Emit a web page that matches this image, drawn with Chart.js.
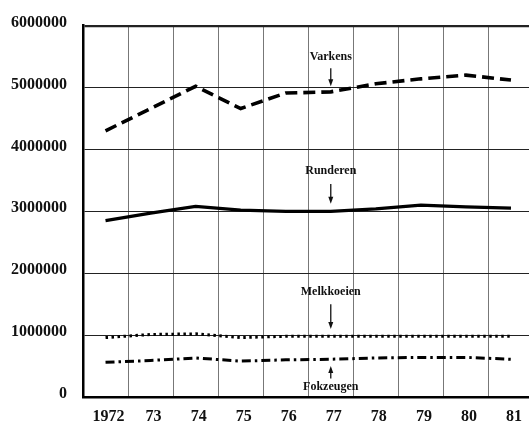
<!DOCTYPE html>
<html>
<head>
<meta charset="utf-8">
<script src="https://cdn.jsdelivr.net/npm/chart.js@4/dist/chart.umd.min.js"></script>
<style>
  html, body { margin: 0; padding: 0; background: #fff; overflow: hidden; }
  #wrap { width: 529px; height: 425px; overflow: hidden; }
</style>
</head>
<body>
<div id="wrap"><canvas id="chart" width="535" height="425"></canvas></div>
<script>
// =====================
// Data
// =====================
const years = ["1972", "73", "74", "75", "76", "77", "78", "79", "80", "81"];

const varkens     = [4300000, 4660000, 5020000, 4660000, 4910000, 4930000, 5060000, 5140000, 5200000, 5120000];
const runderen    = [2850000, 2970000, 3080000, 3020000, 3000000, 3000000, 3040000, 3100000, 3070000, 3050000];
const melkkoeien  = [960000, 1010000, 1020000, 960000, 980000, 980000, 980000, 980000, 980000, 980000];
const fokzeugen   = [560000, 590000, 630000, 580000, 600000, 610000, 630000, 640000, 640000, 610000];

const yTicks = [0, 1000000, 2000000, 3000000, 4000000, 5000000, 6000000];

// labels with arrows: text, category, text value, arrow start, arrow end
const noteText  = ["Varkens", "Runderen", "Melkkoeien", "Fokzeugen"];
const noteYear  = ["77", "77", "77", "77"];
const noteAt    = [5500000, 3650000, 1700000, 160000];
const arrowFrom = [5310000, 3440000, 1500000, 300000];
const arrowTo   = [5020000, 3120000, 1100000, 500000];

const serif = "'Liberation Serif', 'DejaVu Serif', serif";

// =====================
// Notes plugin
// =====================
const notesPlugin = {
  id: 'notes',
  afterDatasetsDraw(chart) {
    const { ctx, scales: { x, y } } = chart;
    ctx.save();
    ctx.fillStyle = '#111';
    ctx.strokeStyle = '#111';
    ctx.font = "bold 12px " + serif;
    ctx.textAlign = 'center';
    ctx.textBaseline = 'middle';
    noteText.forEach((txt, i) => {
      const px = x.getPixelForValue(years.indexOf(noteYear[i]));
      ctx.fillText(txt, px, y.getPixelForValue(noteAt[i]));
      const y0 = y.getPixelForValue(arrowFrom[i]);
      const y1 = y.getPixelForValue(arrowTo[i]);
      const dir = y1 > y0 ? 1 : -1;
      ctx.lineWidth = 1.3;
      ctx.beginPath();
      ctx.moveTo(px, y0);
      ctx.lineTo(px, y1 - dir * 5);
      ctx.stroke();
      ctx.beginPath();
      ctx.moveTo(px, y1);
      ctx.lineTo(px - 2.5, y1 - dir * 7);
      ctx.lineTo(px + 2.5, y1 - dir * 7);
      ctx.closePath();
      ctx.fill();
    });
    ctx.restore();
  }
};

// =====================
// Chart
// =====================
function line(label, data, width, dash) {
  return {
    label, data,
    borderColor: '#000',
    borderWidth: width,
    borderDash: dash,
    borderCapStyle: 'butt',
    pointRadius: 0,
    tension: 0,
    fill: false
  };
}

new Chart(document.getElementById('chart'), {
  type: 'line',
  data: {
    labels: years,
    datasets: [
      line('Varkens', varkens, 3.6, [12, 6]),
      line('Runderen', runderen, 3.2, []),
      line('Melkkoeien', melkkoeien, 3, [2.5, 3.5]),
      line('Fokzeugen', fokzeugen, 3, [9, 4, 2.5, 4])
    ]
  },
  options: {
    responsive: false,
    animation: false,
    devicePixelRatio: 1,
    layout: { padding: { top: 22, right: 1.5, left: 0, bottom: 0 } },
    plugins: { legend: { display: false }, tooltip: { enabled: false } },
    scales: {
      x: {
        offset: true,
        grid: { offset: true, color: '#777', lineWidth: 1, drawTicks: false },
        border: { color: '#000', width: 2.5 },
        ticks: {
          color: '#111', padding: 10, labelOffset: 3, maxRotation: 0, autoSkip: false,
          font: { family: serif, size: 16, weight: 'bold' }
        },
        afterFit(s) { s.height = 28; }
      },
      y: {
        min: 0, max: 6000000,
        afterBuildTicks(s) { s.ticks = yTicks.map(v => ({ value: v })); },
        grid: {
          drawTicks: false,
          color: '#222',
          lineWidth: c => (c.tick && c.tick.value === 6000000) ? 2.2 : 1
        },
        border: { color: '#000', width: 2.5 },
        ticks: {
          color: '#111', padding: 16, labelOffset: -3,
          font: { family: serif, size: 16, weight: 'bold' },
          callback: v => String(v)
        },
        afterFit(s) { s.width = 83; }
      }
    }
  },
  plugins: [notesPlugin]
});
</script>
</body>
</html>
